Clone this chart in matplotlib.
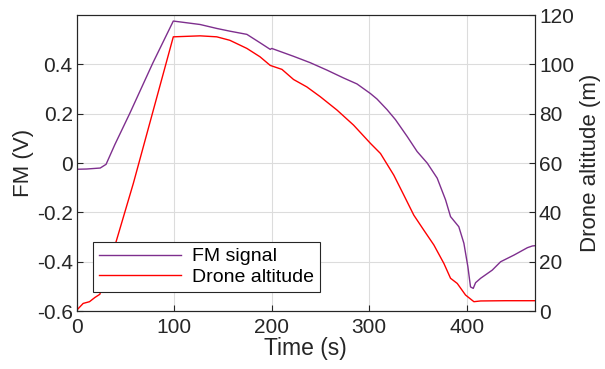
import matplotlib
matplotlib.use('Agg')
import matplotlib.pyplot as plt

plt.rcParams['font.family'] = ['Liberation Sans', 'DejaVu Sans']

# FM signal (V) vs time (s)
fm_time = [0, 10, 24, 30, 39, 54.5, 78, 99, 126.5, 143.6, 157, 174.5, 188,
           198.5, 200, 222.4, 239.6, 256.7, 273.8, 287.5, 301.3, 308, 318.3,
           327, 339, 349.2, 359.6, 369.8, 378.4, 383.5, 392, 397.2, 401.3,
           404, 406.8, 409.2, 414.4, 426.3, 434.9, 448.6, 462.4, 467.5, 470]
fm_signal = [-0.025, -0.024, -0.02, -0.005, 0.075, 0.203, 0.406, 0.576,
             0.562, 0.546, 0.535, 0.522, 0.488, 0.461, 0.465, 0.433, 0.407,
             0.377, 0.345, 0.321, 0.282, 0.26, 0.217, 0.176, 0.108, 0.047,
             0.0, -0.061, -0.149, -0.217, -0.258, -0.325, -0.42, -0.502,
             -0.508, -0.485, -0.467, -0.434, -0.4, -0.373, -0.343, -0.336,
             -0.335]

# drone altitude (m) vs time (s)
alt_time = [0, 6.5, 13, 18.5, 23.6, 40.8, 58, 99, 126.5, 143.6, 157, 174.5,
            188, 198.5, 210.5, 222.4, 236, 249.9, 267, 284, 301.3, 311.6,
            325.3, 335.6, 345.8, 356.1, 366.4, 376.7, 383.5, 390.4, 398.9,
            407.5, 414.4, 440, 470]
altitude = [0.4, 3.1, 3.8, 5.5, 6.8, 28.8, 51.8, 111.2, 111.6, 111.2, 109.8,
            106.5, 103.1, 99.6, 98, 93.9, 90.9, 86.9, 81.5, 75.4, 68, 63.9,
            55.1, 47, 38.9, 32.8, 26.8, 19.3, 13.3, 11.2, 6.5, 3.8, 4.1, 4.2,
            4.2]

purple = '#7E2F8E'
red = '#FF0000'

fig = plt.figure(figsize=(6.05, 3.69), dpi=100)
ax = fig.add_axes([0.127, 0.157, 0.757, 0.802])
ax2 = ax.twinx()

l1, = ax.plot(fm_time, fm_signal, color=purple, lw=1.0, label='FM signal')
l2, = ax2.plot(alt_time, altitude, color=red, lw=1.0, label='Drone altitude')

ax.set_xlim(0, 470)
ax.set_ylim(-0.6, 0.6)
ax2.set_ylim(0, 120)
ax.set_xticks([0, 100, 200, 300, 400])
ax.set_yticks([-0.6, -0.4, -0.2, 0, 0.2, 0.4])
ax.set_yticklabels(['-0.6', '-0.4', '-0.2', '0', '0.2', '0.4'])
ax2.set_yticks([0, 20, 40, 60, 80, 100, 120])

ax.grid(True, color='#dcdcdc', lw=0.8)
ax.set_axisbelow(True)

for a in (ax, ax2):
    a.tick_params(direction='in', length=4, width=0.8, labelsize=15,
                  colors='#262626', pad=3)
    for s in a.spines.values():
        s.set_color('#262626')
        s.set_linewidth(0.8)
ax.tick_params(axis='x', pad=5)

ax.set_xlabel('Time (s)', fontsize=16.5, color='#262626', labelpad=0)
ax.set_ylabel('FM (V)', fontsize=16, color='#262626', labelpad=2)
ax2.set_ylabel('Drone altitude (m)', fontsize=16, color='#262626', labelpad=4)

# legend on the top axes so it covers both lines
leg = ax2.legend(handles=[l1, l2], loc='lower left',
                 bbox_to_anchor=(0.036, 0.065), borderaxespad=0,
                 fontsize=14, fancybox=False, framealpha=1,
                 edgecolor='#262626', handlelength=4.2, borderpad=0.3,
                 labelspacing=0.15, handletextpad=0.6)
leg.get_frame().set_linewidth(0.8)

fig.savefig('out.png', dpi=100)
